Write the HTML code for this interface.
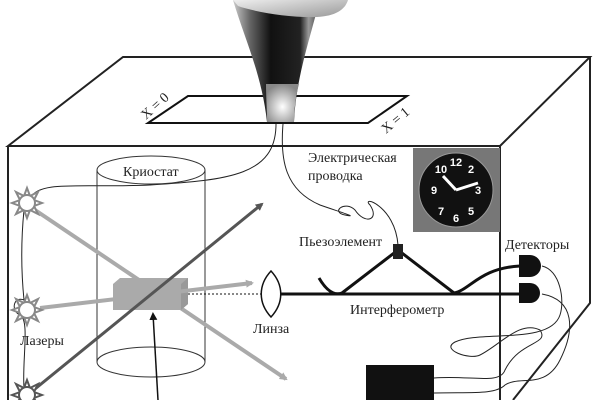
<!DOCTYPE html>
<html><head><meta charset="utf-8"><style>
html,body{margin:0;padding:0;background:#fff;}
svg{display:block;}
text{font-family:"Liberation Serif","DejaVu Serif",serif;font-size:14px;fill:#222;}
</style></head><body>
<svg width="600" height="400" viewBox="0 0 600 400" xmlns="http://www.w3.org/2000/svg">
<defs>
<linearGradient id="fun" x1="0" x2="1" y1="0" y2="0">
<stop offset="0" stop-color="#ccc"/><stop offset="0.2" stop-color="#666"/><stop offset="0.45" stop-color="#111"/><stop offset="0.8" stop-color="#222"/><stop offset="0.9" stop-color="#999"/><stop offset="1" stop-color="#555"/>
</linearGradient>
<linearGradient id="rim" x1="0" x2="1" y1="0" y2="1"><stop offset="0" stop-color="#eee"/><stop offset="1" stop-color="#999"/></linearGradient>
<radialGradient id="tip" cx="0.5" cy="0.6" r="0.6"><stop offset="0" stop-color="#fff"/><stop offset="1" stop-color="#888"/></radialGradient>
<marker id="aL" markerWidth="8" markerHeight="8" refX="6" refY="4" orient="auto" markerUnits="userSpaceOnUse"><path d="M0,0 L8,4 L0,8 Z" fill="#aaa"/></marker>
<marker id="aD" markerWidth="8" markerHeight="8" refX="6" refY="4" orient="auto" markerUnits="userSpaceOnUse"><path d="M0,0 L8,4 L0,8 Z" fill="#555"/></marker>
<marker id="aK" markerWidth="8" markerHeight="8" refX="6" refY="4" orient="auto" markerUnits="userSpaceOnUse"><path d="M0,0 L8,4 L0,8 Z" fill="#111"/></marker>
</defs>
<!-- box -->
<g fill="none" stroke="#222" stroke-width="2">
<path d="M8,146 L123,57 L590,57 L500,146 Z"/>
<path d="M8,146 L8,400 M500,146 L500,400"/>
<path d="M590,57 L590,303 L513,400"/>
</g>
<path d="M188,96 L407,96 L368,123 L148,123 Z" fill="none" stroke="#111" stroke-width="2"/>
<text transform="translate(146,120) rotate(-42)" font-size="13">X = 0</text>
<text transform="translate(386,134) rotate(-40)" font-size="13">X = 1</text>
<!-- funnel -->
<path d="M233,0 C245,40 262,75 267,122 L294,122 C296,80 308,45 317,10 L317,0 Z" fill="url(#fun)"/>
<path d="M233,0 L348,0 C345,10 335,16 317,17 C290,18 255,12 238,6 Z" fill="url(#rim)"/>
<path d="M266,84 L299,84 C296,95 294,110 294,122 L267,122 C267,110 266,95 266,84 Z" fill="url(#tip)"/>
<!-- wires -->
<g fill="none" stroke="#222" stroke-width="1">
<path d="M276,124 C276,175 230,180 150,185 C80,188 40,180 30,198"/>
<path d="M283,124 C280,160 285,190 320,205 C340,212 360,218 345,215 C330,212 345,200 355,210 C365,225 380,220 370,205 C360,195 395,205 398,245"/>
<path d="M24,210 C20,250 22,280 24,300 C14,296 10,310 20,315 C30,320 22,360 24,388"/>
<path d="M542,266 C560,270 565,300 560,315 C550,345 480,330 455,342 C440,350 470,360 480,355 C500,345 520,320 540,330 C550,345 520,340 505,370 C500,385 470,375 434,378"/>
<path d="M542,294 C575,300 575,330 560,360 C545,390 520,375 505,385 C495,395 470,392 434,393"/>
</g>
<!-- clock -->
<rect x="413" y="148" width="87" height="84" fill="#777"/>
<circle cx="456" cy="190" r="37" fill="#111" stroke="#999" stroke-width="1"/>
<g text-anchor="middle" font-weight="bold">
<text x="456" y="166" style="fill:#fff;font-family:'Liberation Sans';font-size:11px">12</text>
<text x="478" y="194" style="fill:#fff;font-family:'Liberation Sans';font-size:11px">3</text>
<text x="456" y="222" style="fill:#fff;font-family:'Liberation Sans';font-size:11px">6</text>
<text x="434" y="194" style="fill:#fff;font-family:'Liberation Sans';font-size:11px">9</text>
<text x="471" y="173" style="fill:#fff;font-family:'Liberation Sans';font-size:11px">2</text>
<text x="441" y="173" style="fill:#fff;font-family:'Liberation Sans';font-size:11px">10</text>
<text x="471" y="215" style="fill:#fff;font-family:'Liberation Sans';font-size:11px">5</text>
<text x="441" y="215" style="fill:#fff;font-family:'Liberation Sans';font-size:11px">7</text>
</g>
<path d="M456,190 L478,183 M456,190 L443,176" stroke="#fff" stroke-width="3"/>
<!-- cylinder -->
<g fill="none" stroke="#333" stroke-width="1">
<ellipse cx="151" cy="170" rx="54" ry="14"/>
<path d="M97,170 L97,362 M205,170 L205,362"/>
<ellipse cx="151" cy="362" rx="54" ry="15"/>
</g>
<!-- beams -->
<line x1="35" y1="210" x2="286" y2="379" stroke="#aaa" stroke-width="4" marker-end="url(#aL)"/>
<path d="M113,284 L120,278 L188,278 L188,304 L181,310 L113,310 Z" fill="#aaa"/>
<path d="M181,284 L188,278 L188,304 L181,310 Z" fill="#999"/>
<line x1="40" y1="308" x2="252" y2="283" stroke="#aaa" stroke-width="4" marker-end="url(#aL)"/>
<line x1="30" y1="393" x2="262" y2="204" stroke="#555" stroke-width="3" marker-end="url(#aD)"/>
<line x1="188" y1="294" x2="263" y2="294" stroke="#111" stroke-width="1" stroke-dasharray="2,2"/>
<line x1="158" y1="400" x2="153" y2="314" stroke="#111" stroke-width="1.5" marker-end="url(#aK)"/>
<!-- suns -->
<g fill="#fff" stroke="#888" stroke-width="2">
<g transform="translate(27,203)"><path d="M0,-15 L3,-7 L11,-11 L7,-3 L15,0 L7,3 L11,11 L3,7 L0,15 L-3,7 L-11,11 L-7,3 L-15,0 L-7,-3 L-11,-11 L-3,-7 Z"/><circle r="8"/></g>
<g transform="translate(27,310)"><path d="M0,-15 L3,-7 L11,-11 L7,-3 L15,0 L7,3 L11,11 L3,7 L0,15 L-3,7 L-11,11 L-7,3 L-15,0 L-7,-3 L-11,-11 L-3,-7 Z"/><circle r="8"/></g>
<g transform="translate(27,395)" stroke="#555"><path d="M0,-15 L3,-7 L11,-11 L7,-3 L15,0 L7,3 L11,11 L3,7 L0,15 L-3,7 L-11,11 L-7,3 L-15,0 L-7,-3 L-11,-11 L-3,-7 Z"/><circle r="8"/></g>
</g>
<!-- lens & interferometer -->
<path d="M271,271 C258,285 258,303 271,317 C284,303 284,285 271,271 Z" fill="#fff" stroke="#111" stroke-width="1.5"/>
<line x1="280" y1="294" x2="530" y2="294" stroke="#111" stroke-width="3"/>
<path d="M319,278 C326,290 334,296 342,293 L398,250 L454,293 C470,290 480,268 520,266" fill="none" stroke="#111" stroke-width="3"/>
<rect x="393" y="244" width="10" height="15" fill="#222"/>
<path d="M519,255 L530,255 A11,11 0 0 1 530,277 L519,277 Z" fill="#111"/>
<path d="M519,283 L530,283 A10,10 0 0 1 530,303 L519,303 Z" fill="#111"/>
<rect x="366" y="365" width="68" height="36" fill="#111"/>
<!-- labels -->
<text x="123" y="176">Криостат</text>
<text x="308" y="162">Электрическая</text>
<text x="308" y="180">проводка</text>
<text x="299" y="246">Пьезоэлемент</text>
<text x="505" y="249">Детекторы</text>
<text x="350" y="314">Интерферометр</text>
<text x="253" y="333">Линза</text>
<text x="20" y="345">Лазеры</text>
</svg>
</body></html>
